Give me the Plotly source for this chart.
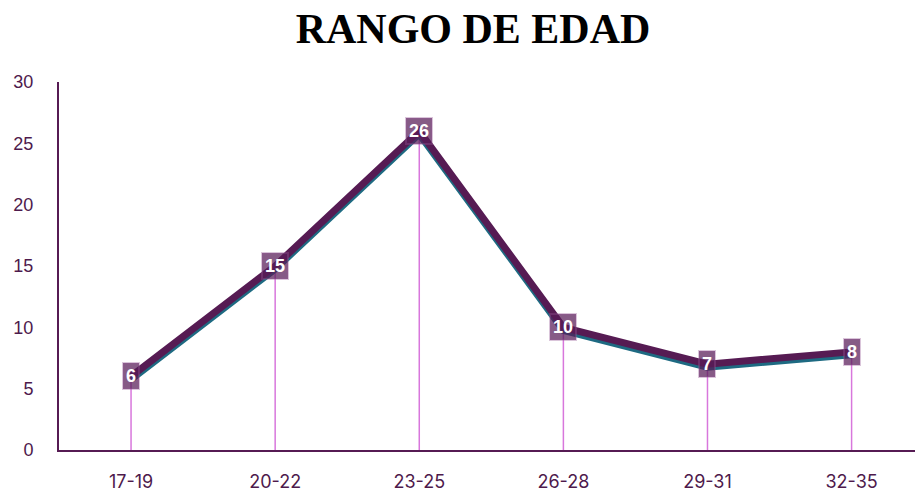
import plotly.graph_objects as go

categories = ["17-19", "20-22", "23-25", "26-28", "29-31", "32-35"]
values = [6, 15, 26, 10, 7, 8]
y_ticks = [0, 5, 10, 15, 20, 25, 30]

PURPLE = "#561b53"
TEAL = "#1e6a82"
ORCHID = "#d877dc"
TXT = "#4e1a4c"

W, H = 915, 492
ml, mt, mb = 59, 82, 42
shadow_px = 3
yspan = 30
shadow_units = shadow_px * yspan / (H - mt - mb)

fig = go.Figure()

# drop lines from each point to the axis
fig.add_trace(go.Scatter(
    x=categories, y=values, mode="none",
    error_y=dict(type="data", symmetric=False, array=[0] * len(values),
                 arrayminus=values, width=0, thickness=1.5, color=ORCHID),
    hoverinfo="skip", showlegend=False))

# shadow line (same data on a slightly shifted overlaying axis)
fig.add_trace(go.Scatter(
    x=categories, y=values, mode="lines", yaxis="y2",
    line=dict(color=TEAL, width=7), hoverinfo="skip", showlegend=False))

# main line (on its own overlaying axis so it is drawn above the shadow)
fig.add_trace(go.Scatter(
    x=categories, y=values, mode="lines", yaxis="y3",
    line=dict(color=PURPLE, width=7), showlegend=False))

for c, v in zip(categories, values):
    fig.add_annotation(x=c, y=v, yref="y3", text=f"<b>{v}</b>", showarrow=False,
                       font=dict(family="Liberation Sans", size=18, color="white"),
                       bgcolor="rgba(88,28,88,0.72)", borderpad=2,
                       bordercolor="rgba(150,90,150,0.35)", borderwidth=2,
                       xanchor="center", yanchor="middle")

fig.update_layout(
    width=W, height=H,
    margin=dict(l=ml, r=0, t=mt, b=mb),
    paper_bgcolor="white", plot_bgcolor="white",
    title=dict(text="<b>RANGO DE EDAD</b>", x=473 / W, xanchor="center",
               y=1 - 28 / H, yanchor="middle",
               font=dict(family="Liberation Serif", size=42, color="black")),
    xaxis=dict(range=[-0.5, 5.44], showgrid=False, zeroline=False,
               showline=True, linecolor=PURPLE, linewidth=2,
               ticks="", ticklabelstandoff=14,
               tickfont=dict(family="Inter", size=18, color=TXT)),
    yaxis=dict(range=[0, yspan], tickvals=y_ticks, showgrid=False, zeroline=False,
               showline=True, linecolor=PURPLE, linewidth=2,
               ticks="", ticklabelstandoff=20,
               tickfont=dict(family="Liberation Sans", size=18, color=TXT)),
    yaxis2=dict(range=[shadow_units, yspan + shadow_units], overlaying="y",
                visible=False),
    yaxis3=dict(range=[0, yspan], overlaying="y", visible=False),
)

fig.write_html("out.html", config={"displayModeBar": False},
               post_script="document.body.style.margin='0';")
